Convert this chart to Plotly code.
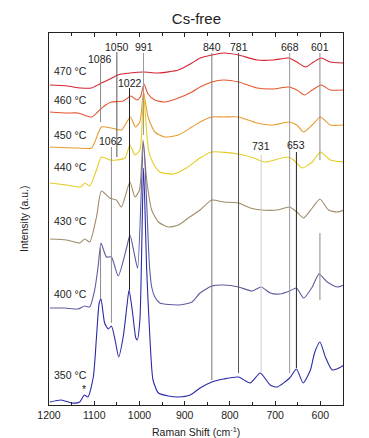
import plotly.graph_objects as go

# ---- data (Raman shift in cm^-1, intensity in arbitrary units) ----
w_470 = [1198, 1160, 1130, 1106, 1088, 1065, 1048, 1020, 991, 958, 914, 884, 866, 840, 814, 781, 740, 704, 670, 652, 633, 615, 598, 578, 548]
i_470 = [320, 319, 317, 317, 321, 326, 330, 332, 333, 332, 335, 342, 347, 350, 352, 350, 345, 345, 347, 343, 338, 343, 347, 343, 342]

w_460 = [1198, 1160, 1136, 1106, 1088, 1075, 1062, 1036, 1019, 1006, 998, 990, 981, 966, 944, 914, 884, 866, 840, 814, 781, 740, 704, 670, 652, 635, 618, 598, 578, 548]
i_460 = [293, 292, 292, 288, 295, 300, 303, 304, 309, 305, 308, 321, 311, 305, 303, 307, 313, 318, 323, 325, 323, 317, 316, 318, 315, 310, 315, 320, 315, 315]

w_450 = [1198, 1136, 1106, 1091, 1084, 1062, 1040, 1020, 1009, 999, 991, 981, 966, 944, 914, 884, 866, 840, 814, 781, 740, 704, 670, 652, 637, 618, 600, 578, 548]
i_450 = [258, 257, 257, 272, 278, 277, 275, 288, 278, 283, 313, 288, 273, 268, 270, 278, 283, 288, 288, 288, 282, 280, 283, 280, 273, 280, 288, 280, 280]

w_440 = [1198, 1161, 1130, 1121, 1110, 1095, 1084, 1065, 1051, 1032, 1021, 1010, 999, 991, 980, 970, 955, 925, 896, 866, 840, 781, 747, 724, 673, 659, 640, 618, 600, 578, 548]
i_440 = [222, 220, 218, 222, 219, 235, 248, 245, 245, 247, 260, 250, 255, 310, 255, 242, 233, 231, 237, 247, 253, 251, 247, 243, 248, 245, 237, 243, 253, 245, 243]

w_430 = [1198, 1161, 1132, 1121, 1110, 1095, 1084, 1066, 1051, 1040, 1021, 1010, 1000, 992, 984, 973, 958, 936, 914, 892, 866, 840, 814, 781, 755, 730, 696, 668, 652, 637, 618, 601, 582, 563, 548]
i_430 = [166, 165, 162, 166, 163, 188, 214, 207, 205, 198, 223, 208, 215, 265, 225, 195, 183, 178, 180, 187, 195, 205, 203, 202, 197, 195, 195, 198, 193, 187, 197, 206, 195, 193, 195]

w_400 = [1198, 1165, 1136, 1121, 1110, 1099, 1091, 1085, 1073, 1062, 1047, 1028, 1021, 1010, 1004, 991, 978, 973, 966, 955, 914, 884, 866, 840, 814, 781, 751, 731, 711, 689, 668, 653, 637, 618, 603, 585, 563, 548]
i_400 = [97, 97, 96, 99, 98, 115, 140, 162, 148, 148, 129, 158, 170, 148, 137, 262, 140, 118, 108, 102, 100, 103, 112, 119, 120, 118, 114, 118, 112, 111, 114, 117, 107, 118, 131, 123, 118, 120]

w_350 = [1198, 1173, 1150, 1132, 1122, 1114, 1102, 1095, 1089, 1085, 1077, 1069, 1062, 1053, 1046, 1036, 1028, 1023, 1016, 1008, 1005, 999, 991, 984, 977, 970, 958, 936, 914, 888, 866, 840, 814, 781, 755, 733, 711, 696, 668, 653, 638, 622, 613, 601, 589, 574, 559, 548]
i_350 = [3, 5, 2, 3, 10, 8, 28, 68, 102, 106, 82, 76, 79, 63, 48, 68, 98, 115, 95, 67, 65, 85, 237, 135, 68, 25, 12, 9, 8, 10, 17, 23, 26, 28, 22, 32, 20, 18, 27, 36, 22, 35, 52, 63, 48, 35, 37, 40]

series_names = ["470 °C", "460 °C", "450 °C", "440 °C", "430 °C", "400 °C", "350 °C"]
series_w = [w_470, w_460, w_450, w_440, w_430, w_400, w_350]
series_i = [i_470, i_460, i_450, i_440, i_430, i_400, i_350]
series_colors = ["#d42530", "#e5552e", "#e99a2f", "#e4cc22", "#a08c68", "#5c5c9e", "#2a2aa8"]
series_label_y = [334, 305, 270, 238, 184, 111, 30]

# peak marker lines: position, [(y0, y1), ...], colour
peak_pos = [1086, 1050, 991, 1022, 1062, 840, 781, 731, 668, 653, 601]
peak_spans = [[(283, 342), (106, 157)], [(248, 353)], [(270, 352)], [(115, 317)], [(82, 258)],
              [(25, 352)], [(32, 352)], [(33, 250)], [(32, 352)], [(37, 253)], [(245, 352), (105, 172)]]
peak_colors = ["#8a8a8a", "#555555", "#9a9a9a", "#222222", "#909090",
               "#777777", "#555555", "#cfcfcf", "#9a9a9a", "#222222", "#888888"]

# peak labels: text, position, height
label_text = ["1086", "1050", "991", "840", "781", "668", "601", "1022", "1062", "731", "653", "*"]
label_x = [1087, 1050, 991, 840, 781, 668, 601, 1022, 1062, 731, 653, 1122]
label_y = [346, 358, 358, 358, 358, 358, 358, 322, 264, 259, 260, 16]

x_ticks = [1200, 1100, 1000, 900, 800, 700, 600]

FONT = "Liberation Sans, Arial, sans-serif"
TXT = "#222222"

fig = go.Figure()

for nm, ws, ii, col in zip(series_names, series_w, series_i, series_colors):
    fig.add_trace(go.Scatter(x=ws, y=ii, mode="lines", name=nm,
                             line=dict(color=col, width=1.1, shape="spline", smoothing=0.6),
                             showlegend=False, hoverinfo="skip"))

for pos, spans, col in zip(peak_pos, peak_spans, peak_colors):
    for (y0, y1) in spans:
        fig.add_shape(type="line", xref="x", yref="y", x0=pos, x1=pos, y0=y0, y1=y1,
                      line=dict(color=col, width=1), layer="above")

for t, x, y in zip(label_text, label_x, label_y):
    fig.add_annotation(x=x, y=y, xref="x", yref="y", text=t, showarrow=False,
                       font=dict(family=FONT, size=10.5, color=TXT), xanchor="center", yanchor="middle")

for nm, y in zip(series_names, series_label_y):
    fig.add_annotation(x=1194, y=y, xref="x", yref="y", text=nm, showarrow=False,
                       font=dict(family=FONT, size=10.5, color=TXT), xanchor="left", yanchor="middle")

# axis titles
fig.add_annotation(x=-0.085, y=0.5, xref="paper", yref="paper", text="Intensity (a.u.)",
                   textangle=-90, showarrow=False, font=dict(family=FONT, size=10.5, color=TXT),
                   xanchor="center", yanchor="middle")
fig.add_annotation(x=0.5, y=-0.072, xref="paper", yref="paper", text="Raman Shift (cm<sup>-1</sup>)",
                   showarrow=False, font=dict(family=FONT, size=10.5, color=TXT),
                   xanchor="center", yanchor="middle")
# neighbouring panel's axis title, cut off at the right edge
fig.add_annotation(x=1.1, y=0.5, xref="paper", yref="paper", text="Intensity (a.u.)",
                   textangle=-90, showarrow=False, font=dict(family=FONT, size=10.5, color=TXT),
                   xanchor="center", yanchor="middle")

# page body has an 8 px margin: figure is 8 px smaller and margins shifted so the
# plot area sits at the same window pixels as the reference
fig.update_layout(
    width=361, height=430,
    margin=dict(l=41, r=26, t=25, b=33),
    paper_bgcolor="white", plot_bgcolor="white",
    title=dict(text="Cs-free", x=0.522, xanchor="center", y=0.975, yanchor="middle",
               font=dict(family=FONT, size=15, color=TXT)),
    font=dict(family=FONT, color=TXT),
)
fig.update_xaxes(range=[1200, 550], tickvals=x_ticks, ticktext=[str(v) for v in x_ticks],
                 ticks="inside", ticklen=4, tickcolor="#222", showline=True, linecolor="#222",
                 linewidth=1, mirror="ticks", showgrid=False, zeroline=False,
                 tickfont=dict(family=FONT, size=10.5, color=TXT),
                 minor=dict(dtick=50, tick0=0, ticks="inside", ticklen=3, tickcolor="#222"))
fig.update_yaxes(range=[0, 372], showticklabels=False, ticks="", showline=True, linecolor="#222",
                 linewidth=1, mirror=True, showgrid=False, zeroline=False)

fig.write_html("out.html")
